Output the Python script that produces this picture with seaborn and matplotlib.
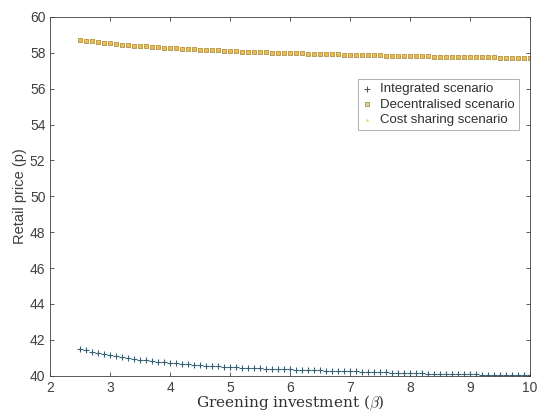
"""
Retail price vs greening investment for three supply chain scenarios.
"""
import matplotlib
matplotlib.use("Agg")
import matplotlib.pyplot as plt
import numpy as np
import pandas as pd
import seaborn as sns

# ---------------------------------------------------------------------------
# Data
# ---------------------------------------------------------------------------
beta = np.round(np.arange(25, 101) / 10, 1)  # 2.5 ... 10.0, step 0.1

integrated = [
    41.50, 41.42, 41.34, 41.27, 41.20, 41.13, 41.08, 41.03, 40.98, 40.94,
    40.90, 40.86, 40.83, 40.79, 40.76, 40.73, 40.70, 40.67, 40.65, 40.62,
    40.60, 40.57, 40.55, 40.53, 40.50, 40.48, 40.47, 40.45, 40.44, 40.42,
    40.41, 40.40, 40.38, 40.37, 40.36, 40.35, 40.34, 40.33, 40.32, 40.31,
    40.30, 40.29, 40.28, 40.27, 40.26, 40.25, 40.24, 40.23, 40.22, 40.21,
    40.20, 40.19, 40.18, 40.17, 40.16, 40.15, 40.14, 40.13, 40.12, 40.12,
    40.11, 40.10, 40.09, 40.09, 40.08, 40.07, 40.07, 40.06, 40.06, 40.05,
    40.05, 40.04, 40.04, 40.03, 40.03, 40.02,
]

decentralised = [
    58.72, 58.68, 58.64, 58.60, 58.56, 58.52, 58.49, 58.46, 58.43, 58.40,
    58.38, 58.35, 58.33, 58.31, 58.29, 58.27, 58.25, 58.23, 58.21, 58.19,
    58.18, 58.16, 58.15, 58.13, 58.12, 58.10, 58.09, 58.07, 58.06, 58.05,
    58.04, 58.03, 58.01, 58.00, 57.99, 57.98, 57.97, 57.96, 57.95, 57.94,
    57.93, 57.92, 57.91, 57.91, 57.90, 57.89, 57.88, 57.87, 57.87, 57.86,
    57.85, 57.84, 57.84, 57.83, 57.82, 57.82, 57.81, 57.80, 57.80, 57.79,
    57.79, 57.78, 57.77, 57.77, 57.76, 57.76, 57.75, 57.75, 57.74, 57.74,
    57.73, 57.73, 57.72, 57.72, 57.71, 57.71,
]

cost_sharing = [
    58.71, 58.67, 58.63, 58.59, 58.55, 58.52, 58.49, 58.46, 58.43, 58.40,
    58.37, 58.35, 58.33, 58.31, 58.29, 58.27, 58.25, 58.23, 58.21, 58.19,
    58.18, 58.16, 58.14, 58.13, 58.11, 58.10, 58.09, 58.07, 58.06, 58.05,
    58.04, 58.02, 58.01, 58.00, 57.99, 57.98, 57.97, 57.96, 57.95, 57.94,
    57.93, 57.92, 57.91, 57.90, 57.90, 57.89, 57.88, 57.87, 57.86, 57.86,
    57.85, 57.84, 57.83, 57.83, 57.82, 57.81, 57.81, 57.80, 57.79, 57.79,
    57.78, 57.78, 57.77, 57.76, 57.76, 57.75, 57.75, 57.74, 57.74, 57.73,
    57.73, 57.72, 57.72, 57.71, 57.71, 57.70,
]

labels = ["Integrated scenario", "Decentralised scenario", "Cost sharing scenario"]

# ---------------------------------------------------------------------------
# Plot
# ---------------------------------------------------------------------------
sns.set_style("ticks")
plt.rcParams["font.family"] = ["Liberation Sans", "DejaVu Sans"]
plt.rcParams["mathtext.fontset"] = "cm"

fig = plt.figure(figsize=(5.41, 4.12), dpi=100)
ax = fig.add_axes([0.093, 0.088, 0.887, 0.871])

sns.scatterplot(x=beta, y=integrated, marker="+", s=22, linewidth=0.8,
                color="#3b5f6e", label=labels[0], ax=ax)
sns.scatterplot(x=beta, y=decentralised, marker="s", s=10, linewidth=0.7,
                facecolor="#e8cf8a", edgecolor="#b39a60", label=labels[1], ax=ax)
sns.scatterplot(x=beta, y=cost_sharing, marker="*", s=14, linewidth=0,
                color="#EDB120", alpha=0.7, label=labels[2], ax=ax)

ax.set_xlim(2, 10)
ax.set_ylim(40, 60)
ax.set_xticks(range(2, 11))
ax.set_yticks(range(40, 61, 2))
ax.tick_params(direction="in", length=3, width=0.6, labelsize=10,
               colors="#404040", top=True, right=True, labeltop=False,
               labelright=False)
for side in ax.spines.values():
    side.set_linewidth(0.6)
    side.set_color("#404040")

ax.set_ylabel("Retail price (p)", fontsize=10.5, color="#404040", labelpad=2)
ax.set_xlabel(r"Greening investment ($\beta$)", fontsize=11,
              family="DejaVu Serif", color="#303030", labelpad=-1)

leg = ax.legend(loc="upper right", bbox_to_anchor=(0.99, 0.845),
                fontsize=9.5, frameon=True, fancybox=False,
                handlelength=0.8, handletextpad=0.6, borderpad=0.3,
                labelspacing=0.25, markerscale=0.8)
leg.get_frame().set_edgecolor("#8c8c8c")
leg.get_frame().set_linewidth(0.6)
for txt in leg.get_texts():
    txt.set_color("#303030")

plt.savefig("out.png", dpi=100)
plt.close(fig)
